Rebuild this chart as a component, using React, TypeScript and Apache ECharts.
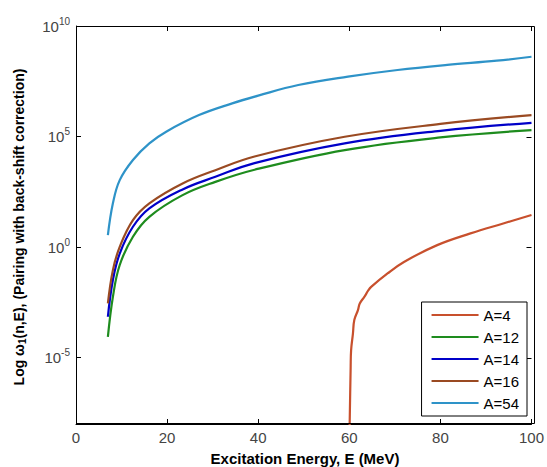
import React, { useEffect, useRef } from 'react';
import * as echarts from 'echarts';

// Excitation energy (MeV) sample points
const energyMain = [7.0, 8.1, 9.6, 12.5, 16.1, 23.4, 30.6, 39.2, 59.0, 80.0, 100];
// log10 of omega_1(n,E) for each mass number
const logA12 = [-4.06, -2.25, -0.81, 0.47, 1.37, 2.35, 2.95, 3.5, 4.39, 4.96, 5.29];
const logA14 = [-3.15, -1.49, -0.29, 0.92, 1.75, 2.61, 3.18, 3.8, 4.69, 5.26, 5.62];
const logA16 = [-2.55, -1.04, 0.01, 1.22, 1.98, 2.88, 3.48, 4.1, 4.99, 5.57, 5.97];

const energyA54 = [7.0, 8.1, 9.6, 12.5, 16.1, 19.8, 27.0, 34.3, 40.0, 48.8, 59.7, 70.6, 81.5, 92.4, 100];
const logA54 = [0.54, 1.98, 3.03, 3.94, 4.69, 5.22, 5.97, 6.5, 6.85, 7.33, 7.71, 8.01, 8.24, 8.43, 8.61];

const energyA4 = [60.0, 60.3, 60.4, 60.8, 61.1, 61.9, 62.3, 63.3, 64.2, 64.8, 68.4, 72.0, 79.3, 86.6, 93.8, 100];
const logA4 = [-9.0, -5.42, -4.66, -3.91, -3.3, -2.85, -2.55, -2.25, -1.95, -1.8, -1.19, -0.67, 0.09, 0.62, 1.07, 1.45];

const seriesNames = ['A=4', 'A=12', 'A=14', 'A=16', 'A=54'];
const seriesColors = ['#c8502d', '#1e8c1e', '#0000c8', '#9a4a22', '#2e93c8'];
const xTicks = [0, 20, 40, 60, 80, 100];
const yTickExponents = [-5, 0, 5, 10];
const X_MIN = 0, X_MAX = 100, Y_MIN = -8, Y_MAX = 10;

const FONT = '"Liberation Sans", Arial, sans-serif';
const GRID = { left: 76, right: 12, top: 26, bottom: 43 };
const W = 547, H = 467;

const pairs = (xs: number[], ys: number[]) => xs.map((x, i) => [x, ys[i]]);

export default function App() {
  const ref = useRef<HTMLDivElement>(null);
  useEffect(() => {
    document.documentElement.style.overflow = 'hidden';
    document.body.style.margin = '0';
    document.body.style.overflow = 'hidden';
    if (!ref.current) return;
    const chart = echarts.init(ref.current, undefined, { renderer: 'svg', width: W, height: H });
    const seriesData = [
      pairs(energyA4, logA4),
      pairs(energyMain, logA12),
      pairs(energyMain, logA14),
      pairs(energyMain, logA16),
      pairs(energyA54, logA54),
    ];
    const axisLine = { show: true, onZero: false, lineStyle: { color: '#000', width: 1 } };
    const tick = { show: true, inside: true, length: 5, lineStyle: { color: '#000' } };
    const baseGraphics: any[] = [
      {
        type: 'rect', z: 5, silent: true,
        shape: {
          x: GRID.left + 0.5, y: GRID.top + 0.5,
          width: W - GRID.left - GRID.right - 1, height: H - GRID.top - GRID.bottom - 1,
        },
        style: { fill: 'none', stroke: '#000', lineWidth: 1 },
      },
      {
        type: 'text', x: 305, y: 458,
        style: {
          text: 'Excitation Energy, E (MeV)',
          font: `bold 15px ${FONT}`,
          fill: '#000', align: 'center', verticalAlign: 'middle',
        },
      },
      {
        type: 'text', x: 19, y: 227, rotation: Math.PI / 2,
        style: {
          text: '{n|Log }{w|ω}{s|1}{n|(n,E), (Pairing with back-shift correction)}',
          align: 'center', verticalAlign: 'middle',
          rich: {
            n: { fontSize: 14, fontWeight: 'bold', fontFamily: FONT, color: '#000' },
            w: { fontSize: 14, fontWeight: 'bold', fontFamily: FONT, color: '#000' },
            s: { fontSize: 10, fontWeight: 'bold', fontFamily: FONT, color: '#000', verticalAlign: 'bottom', padding: [6, 0, 0, 0] },
          },
        },
      },
    ];
    chart.setOption({
      animation: false,
      backgroundColor: '#fff',
      grid: GRID,
      xAxis: {
        type: 'value', min: X_MIN, max: X_MAX, interval: 20,
        axisLine, axisTick: tick, splitLine: { show: false },
        axisLabel: { color: '#444', fontSize: 15, fontFamily: FONT, margin: 6 },
      },
      yAxis: {
        type: 'value', min: Y_MIN, max: Y_MAX,
        axisLine,
        axisTick: { ...tick, customValues: yTickExponents },
        splitLine: { show: false },
        axisLabel: {
          customValues: yTickExponents,
          margin: 6,
          formatter: (v: number) => `{b|10}{e|${v}}`,
          rich: {
            b: { fontSize: 15, fontFamily: FONT, color: '#444' },
            e: { fontSize: 10, fontFamily: FONT, color: '#444', verticalAlign: 'top', padding: [0, 0, 10, 0] },
          },
        },
      },
      legend: {
        data: seriesNames,
        orient: 'vertical',
        right: 20,
        bottom: 51,
        backgroundColor: '#fff',
        borderColor: '#000',
        borderWidth: 1,
        borderRadius: 0,
        padding: [5, 8, 5, 9],
        itemWidth: 47,
        itemHeight: 16,
        itemGap: 6,
        itemStyle: { opacity: 0 },
        textStyle: { fontSize: 15, lineHeight: 16, fontFamily: FONT, color: '#000' },
        z: 10,
      },
      graphic: baseGraphics,
      series: seriesNames.map((name, i) => ({
        name,
        type: 'line',
        data: seriesData[i],
        symbol: 'none',
        showSymbol: false,
        smooth: 0.4,
        clip: true,
        color: seriesColors[i],
        lineStyle: { color: seriesColors[i], width: 2.2 },
      })),
    });

    // Mirrored ticks on the top and right edges, positioned through the chart's own scales
    try {
      const px = (x: number, y: number) => chart.convertToPixel({ gridIndex: 0 }, [x, y]) as number[];
      const top = px(X_MIN, Y_MAX)[1];
      const right = px(X_MAX, Y_MIN)[0];
      const ls = { stroke: '#000', lineWidth: 1 };
      const extras: any[] = [];
      xTicks.forEach((t) => {
        const tx = Math.round(px(t, Y_MAX)[0]) + 0.5;
        extras.push({ type: 'line', z: 5, silent: true, shape: { x1: tx, y1: top, x2: tx, y2: top + 5 }, style: ls });
      });
      yTickExponents.forEach((e) => {
        const ty = Math.round(px(X_MAX, e)[1]) + 0.5;
        extras.push({ type: 'line', z: 5, silent: true, shape: { x1: right - 5, y1: ty, x2: right, y2: ty }, style: ls });
      });
      chart.setOption({ graphic: [...baseGraphics, ...extras] });
    } catch (err) {
      // keep the base chart if tick placement fails
    }

    return () => chart.dispose();
  }, []);
  return <div ref={ref} style={{ position: 'absolute', left: 0, top: 0, width: W, height: H }} />;
}
